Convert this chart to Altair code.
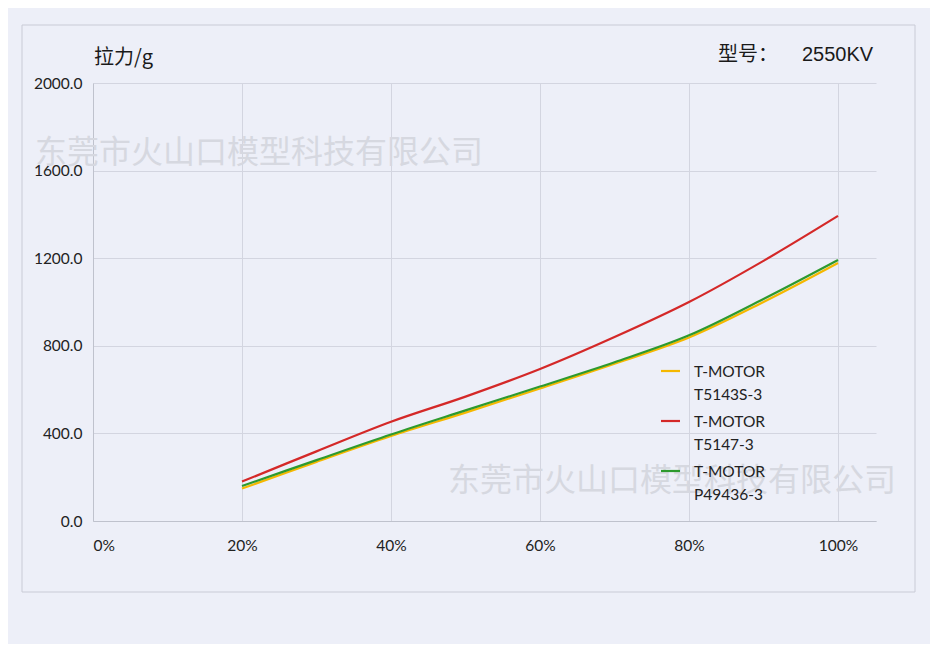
import altair as alt
import pandas as pd

# ---- data ----
throttle = [0.2, 0.3, 0.4, 0.5, 0.6, 0.7, 0.8, 0.9, 1.0]
t5143s = [148, 270, 388, 495, 605, 718, 838, 1000, 1178]
t5147 = [180, 318, 453, 568, 694, 840, 1000, 1188, 1393]
p49436 = [160, 278, 395, 505, 614, 725, 848, 1014, 1192]

series_names = ["T-MOTOR T5143S-3", "T-MOTOR T5147-3", "T-MOTOR P49436-3"]
series_colors = ["#f5b800", "#d42828", "#2e9a2e"]
x_ticks = [0, 0.2, 0.4, 0.6, 0.8, 1.0]
y_ticks = [0, 400, 800, 1200, 1600, 2000]

rows = []
for name, vals in zip(series_names, [t5143s, t5147, p49436]):
    for x, v in zip(throttle, vals):
        rows.append({"series": name, "throttle": x, "thrust": v})
df = pd.DataFrame(rows)

BG = "#edeff8"
W, H = 783, 438

x_enc = alt.X("throttle:Q",
              scale=alt.Scale(domain=[0, 1.051], nice=False, zero=True),
              axis=alt.Axis(values=x_ticks, format=".0%", title=None,
                            labelPadding=17, labelFontSize=15.5, labelFont="Lato",
                            labelColor="#222222", tickSize=0,
                            gridColor="#d3d5e0", domainColor="#bfc2cd"))
y_enc = alt.Y("thrust:Q",
              scale=alt.Scale(domain=[0, 2000], nice=False),
              axis=alt.Axis(values=y_ticks, format=".1f", title=None,
                            labelPadding=11, labelFontSize=15.5, labelFont="Lato",
                            labelColor="#222222", tickSize=0,
                            gridColor="#d3d5e0", domainColor="#bfc2cd"))

lines = alt.Chart(df).mark_line(interpolate="catmull-rom", strokeWidth=2.2).encode(
    x=x_enc,
    y=y_enc,
    color=alt.Color("series:N", scale=alt.Scale(domain=series_names, range=series_colors), legend=None),
    order=alt.Order("throttle:Q"),
)

one = pd.DataFrame({"a": [0]})

# frame around the chart
frame = alt.Chart(one).mark_rect(
    fill=None, stroke="#c9cbd6", strokeWidth=1, clip=False
).encode(x=alt.value(-71), x2=alt.value(822), y=alt.value(-58), y2=alt.value(509))


def txt(text, x, y, size, font, color="#1a1a1a", align="left", baseline="middle"):
    return alt.Chart(one).mark_text(
        text=text, align=align, baseline=baseline, fontSize=size, font=font,
        color=color, clip=False
    ).encode(x=alt.value(x), y=alt.value(y))


watermark1 = txt("东莞市火山口模型科技有限公司", -58, 70, 32, "Noto Sans CJK SC", color="#d6d8e0")
watermark2 = txt("东莞市火山口模型科技有限公司", 355, 398, 32, "Noto Sans CJK SC", color="#d6d8e0")

ytitle = txt("拉力/g", 1, -25, 20, "Noto Sans CJK SC")
model1 = txt("型号：", 625, -28, 20, "Noto Sans CJK SC")
model2 = txt("2550KV", 709, -28, 20, "Liberation Sans")

# manual legend
legend_layers = []
legend_labels = [["T-MOTOR", "T5143S-3"], ["T-MOTOR", "T5147-3"], ["T-MOTOR", "\u00a0P49436-3"]]
for i, (lab, col) in enumerate(zip(legend_labels, series_colors)):
    yy = 288 + 50 * i
    legend_layers.append(
        alt.Chart(one).mark_rule(strokeWidth=2.2, color=col, clip=False).encode(
            x=alt.value(568), x2=alt.value(587), y=alt.value(yy))
    )
    legend_layers.append(
        alt.Chart(one).mark_text(
            text=lab, align="left", baseline="alphabetic", fontSize=15.5, font="Lato",
            color="#222222", lineHeight=23, clip=False
        ).encode(x=alt.value(601), y=alt.value(yy + 6))
    )

chart = alt.layer(
    frame, watermark1, lines, watermark2, ytitle, model1, model2, *legend_layers
).properties(
    width=W, height=H,
    background=BG,
    padding={"left": 85, "top": 75, "right": 54, "bottom": 123},
    autosize=alt.AutoSizeParams(type="none"),
).configure_view(
    stroke=None, fill=BG
)

chart.save("out.html", embed_options={"renderer": "svg", "actions": False})
